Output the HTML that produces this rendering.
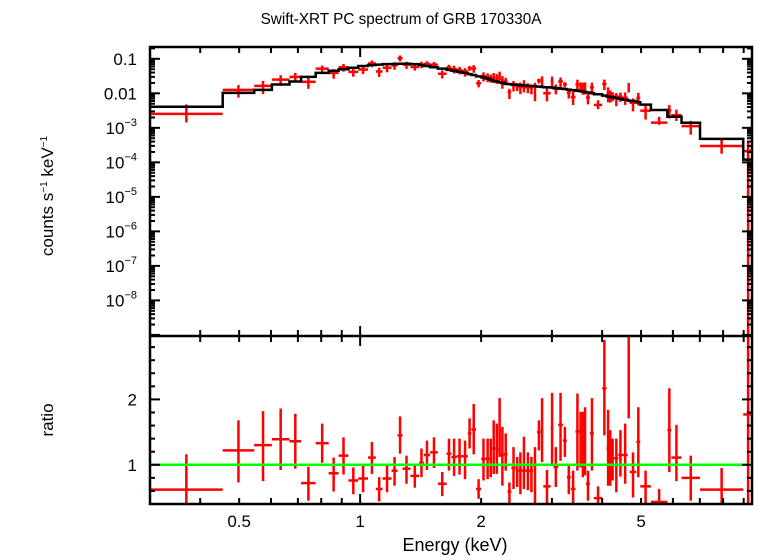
<!DOCTYPE html>
<html><head><meta charset="utf-8"><style>
body{margin:0;background:#fff;}
svg{display:block;font-family:"Liberation Sans",sans-serif;}
</style></head><body>
<svg id="c" width="758" height="556" viewBox="0 0 758 556"></svg>
<script>
const binEdges=[0.300,0.455,0.545,0.603,0.667,0.713,0.775,0.835,0.884,0.935,0.989,1.046,1.094,1.137,1.197,1.239,1.275,1.334,1.402,1.440,1.493,1.561,1.641,1.686,1.740,1.795,1.853,1.891,1.943,2.000,2.055,2.097,2.130,2.169,2.208,2.239,2.279,2.326,2.378,2.438,2.482,2.527,2.585,2.644,2.692,2.754,2.816,2.855,2.979,3.027,3.110,3.195,3.268,3.342,3.433,3.512,3.559,3.607,3.648,3.731,3.816,4.002,4.102,4.177,4.205,4.291,4.388,4.498,4.632,4.684,4.867,4.977,5.290,5.813,5.946,6.304,7.009,8.977,9.495];
const ratio=[0.62,1.22,1.30,1.39,1.36,0.72,1.33,0.87,1.14,0.76,0.79,1.11,0.63,0.79,0.91,1.45,0.94,0.83,1.03,1.15,1.19,0.71,1.17,1.12,1.13,1.13,1.48,1.54,0.63,1.09,1.09,1.10,1.25,1.25,1.53,1.15,1.16,0.59,0.95,0.91,0.91,0.91,0.91,0.91,1.0,1.50,1.53,0.67,1.57,0.97,1.61,1.37,0.81,0.63,1.51,1.53,1.53,1.53,0.71,1.48,0.49,2.17,1.25,1.25,1.10,1.10,1.15,1.15,2.91,0.89,1.35,0.67,0.43,1.53,1.11,0.80,0.62,1.77];
const ratioLo=[0.35,0.73,0.75,0.92,0.94,0.45,1.03,0.59,0.85,0.55,0.58,0.86,0.44,0.58,0.68,1.17,0.71,0.65,0.81,0.92,0.95,0.52,0.91,0.83,0.85,0.78,1.25,1.16,0.48,0.76,0.78,0.81,0.86,0.86,1.12,0.68,0.91,0.37,0.63,0.66,0.55,0.63,0.61,0.58,0.37,1.22,1.04,0.39,1.01,0.66,1.06,1.12,0.55,0.37,0.91,0.96,0.81,0.84,0.45,0.91,0.37,1.45,0.68,0.68,0.76,0.58,0.82,0.71,1.71,0.50,0.81,0.37,0.37,0.89,0.75,0.45,0.37,0];
const ratioHi=[1.16,1.68,1.82,1.86,1.78,0.97,1.63,1.11,1.42,0.96,0.99,1.35,0.81,0.99,1.12,1.74,1.14,1.02,1.25,1.37,1.42,0.89,1.40,1.40,1.40,1.37,1.71,1.93,0.78,1.40,1.40,1.40,1.68,1.63,2.02,1.58,1.48,0.73,1.27,1.12,1.19,1.43,1.19,1.12,1.27,1.68,2.02,0.92,2.10,1.27,2.10,1.58,1.02,0.91,2.09,1.81,1.81,1.88,0.91,2.02,0.67,2.91,1.84,1.53,1.40,1.40,1.53,1.63,3.2,1.19,1.88,0.91,0.63,2.17,1.61,1.14,0.95,3.2];
const model=[0.0041,0.0103,0.0126,0.018,0.022,0.030,0.039,0.045,0.050,0.055,0.062,0.066,0.068,0.070,0.071,0.072,0.072,0.070,0.066,0.062,0.057,0.052,0.048,0.045,0.042,0.039,0.036,0.034,0.031,0.029,0.027,0.025,0.023,0.022,0.021,0.020,0.019,0.0185,0.018,0.0176,0.0172,0.0168,0.0165,0.0162,0.016,0.0157,0.0154,0.015,0.0146,0.0142,0.0137,0.0133,0.0128,0.0124,0.0119,0.0115,0.0112,0.0110,0.0106,0.0101,0.0094,0.0086,0.0081,0.0079,0.0077,0.0073,0.0069,0.0065,0.0062,0.0060,0.0055,0.0047,0.0033,0.0021,0.0021,0.0014,0.00048,0.00012];
const xTickVals=[0.5,1,2,5];
const xTickLabels=["0.5","1","2","5"];
const yTopExps=[-1,-2,-3,-4,-5,-6,-7,-8];
const ratioTickVals=[1,2];

const NS="http://www.w3.org/2000/svg";
const svg=document.getElementById('c');
const L=150,R=752,T=47,M=336,B=504;
const xMin=Math.log10(0.3),xMax=Math.log10(9.44);
function X(e){return L+(Math.log10(e)-xMin)/(xMax-xMin)*(R-L);}
const yTopMax=Math.log10(0.22),yTopMin=Math.log10(9.3e-10);
function YT(v){if(v<=0)return M;const y=T+(yTopMax-Math.log10(v))/(yTopMax-yTopMin)*(M-T);return Math.max(T,Math.min(M,y));}
const rMin=0.4,rMax=2.97;
function YR(v){const y=M+(rMax-v)/(rMax-rMin)*(B-M);return Math.max(M,Math.min(B,y));}
function el(tag,attrs,parent){const e=document.createElementNS(NS,tag);for(const k in attrs)e.setAttribute(k,attrs[k]);(parent||svg).appendChild(e);return e;}
function line(x1,y1,x2,y2,col,w,p){return el('line',{x1,y1,x2,y2,stroke:col,'stroke-width':w},p);}

let t=el('text',{x:401,y:24,'text-anchor':'middle','font-size':15.3});t.textContent='Swift-XRT PC spectrum of GRB 170330A';


const gTop=el('g',{});

const gRat=el('g',{});

const gMod=el('g',{});


for(let i=0;i<ratio.length;i++){
  const e0=binEdges[i],e1=binEdges[i+1],ec=Math.sqrt(e0*e1);
  const xa=X(e0),xb=X(e1),xc=X(ec);
  const v=model[i]*ratio[i],vl=model[i]*ratioLo[i],vh=model[i]*ratioHi[i];
  const g1=el('g',{},gTop);
  
  line(xa,YT(v),xb,YT(v),'#f00',2.5,g1);line(xc,YT(vl),xc,YT(vh),'#f00',2.5,g1);
  const g2=el('g',{},gRat);
  
  line(xa,YR(ratio[i]),xb,YR(ratio[i]),'#f00',2.5,g2);line(xc,YR(ratioLo[i]),xc,YR(ratioHi[i]),'#f00',2.5,g2);
}
let d='';
for(let i=0;i<model.length;i++){
  const xa=X(binEdges[i]),xb=X(binEdges[i+1]),y=YT(model[i]);
  d+=(i===0?'M'+L+' '+y:'L'+xa+' '+y)+' L'+Math.min(xb,R)+' '+y+' ';
}
el('path',{d,fill:'none',stroke:'#000','stroke-width':2.5},gMod);
const u=line(L,YR(1),R,YR(1),'#0f0',2.5);


const fr=el('g',{});
el('rect',{x:L,y:T,width:R-L,height:B-T,fill:'none',stroke:'#000','stroke-width':2.5},fr);
line(L,M,R,M,'#000',2.5,fr);

const gx=el('g',{});
const minorX=[0.3,0.4,0.5,0.6,0.7,0.8,0.9,1,2,3,4,5,6,7,8,9];
for(const e of minorX){
  const x=X(e);if(x<L+1||x>R-1)continue;
  const len=(e===1)?10:6;
  line(x,T,x,T+len,'#000',2,gx);
  line(x,M-len,x,M+len,'#000',2,gx);
  line(x,B,x,B-len,'#000',2,gx);
}
for(let i=0;i<xTickVals.length;i++){
  const tx=el('text',{x:X(xTickVals[i]),y:527,'text-anchor':'middle','font-size':17},gx);tx.textContent=xTickLabels[i];
}
let xl=el('text',{x:455,y:551,'text-anchor':'middle','font-size':18},gx);xl.textContent='Energy (keV)';


const gy=el('g',{});
for(let ex=-10;ex<=-1;ex++){
  for(let m=1;m<10;m++){
    const v=m*Math.pow(10,ex);const y=YT(v);if(y<=T+1||y>=M-1)continue;
    const len=m===1?10:5;
    line(L,y,L+len,y,'#000',2,gy);line(R,y,R-len,y,'#000',2,gy);
  }
}
for(const ex of yTopExps){
  const y=YT(Math.pow(10,ex))+6;
  const tx=el('text',{x:137,y,'text-anchor':'end','font-size':17},gy);
  if(ex===-1)tx.textContent='0.1';else if(ex===-2)tx.textContent='0.01';
  else{tx.textContent='10';const s=el('tspan',{dy:-8,'font-size':11},tx);s.textContent='\u2212'+(-ex);}
}
let yl=el('text',{x:0,y:0,'text-anchor':'middle','font-size':17,transform:'translate(53,196) rotate(-90)'},gy);
yl.textContent='counts s';let s1=el('tspan',{dy:-6,'font-size':10},yl);s1.textContent='\u22121';
let s2=el('tspan',{dy:6},yl);s2.textContent=' keV';let s3=el('tspan',{dy:-6,'font-size':10},yl);s3.textContent='\u22121';


const gr=el('g',{});
for(let k=2;k<=14;k++){
  const v=k*0.2;const y=YR(v);if(y<=M+1||y>=B-1)continue;
  const major=Math.abs(v-Math.round(v))<1e-6;const len=major?10:5;
  line(L,y,L+len,y,'#000',2,gr);line(R,y,R-len,y,'#000',2,gr);
}
for(const v of ratioTickVals){const tx=el('text',{x:137,y:YR(v)+6,'text-anchor':'end','font-size':17},gr);tx.textContent=String(v);}
let rl=el('text',{x:0,y:0,'text-anchor':'middle','font-size':17,transform:'translate(53,420) rotate(-90)'},gr);rl.textContent='ratio';

</script>
</body></html>
